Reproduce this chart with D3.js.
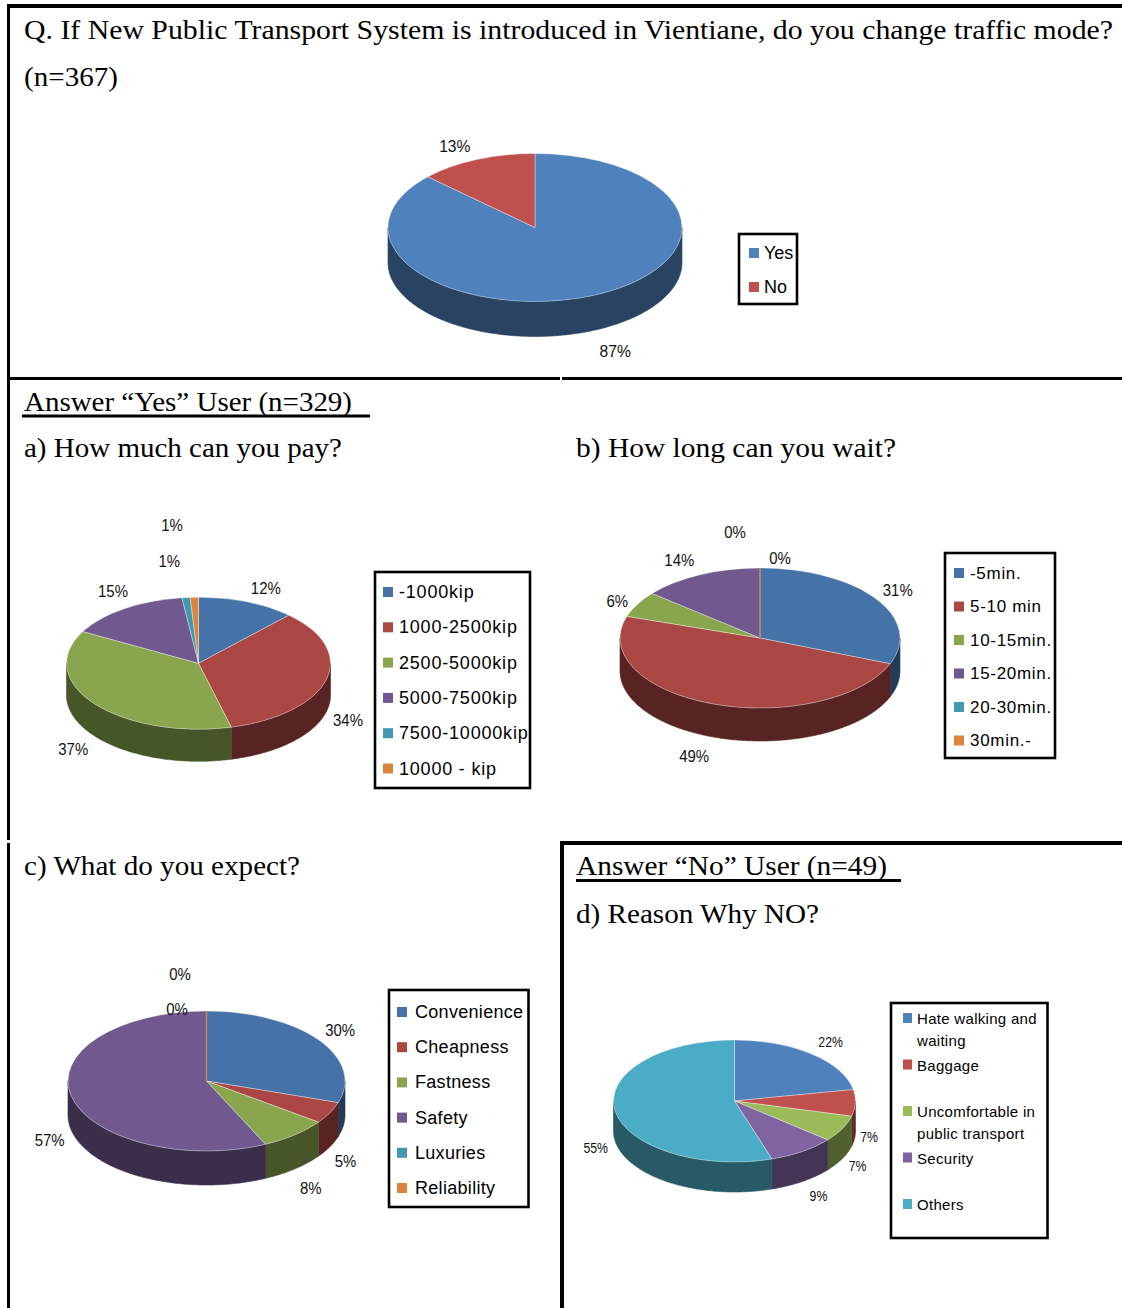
<!DOCTYPE html>
<html>
<head>
<meta charset="utf-8">
<script src="https://cdn.jsdelivr.net/npm/d3@7"></script>
<style>
  body { margin: 0; background: #fff; }
  svg { display: block; }
</style>
</head>
<body>
<svg id="page" width="1122" height="1308"></svg>
<script>
// ---- Survey data (percent of respondents) ----
const modeCategories = ["Yes", "No"];
const modeValues = [87, 13];

const payCategories = ["-1000kip", "1000-2500kip", "2500-5000kip", "5000-7500kip", "7500-10000kip", "10000 - kip"];
const payValues = [12, 34, 37, 15, 1, 1];

const waitCategories = ["-5min.", "5-10 min", "10-15min.", "15-20min.", "20-30min.", "30min.-"];
const waitValues = [31, 49, 6, 14, 0, 0];

const expectCategories = ["Convenience", "Cheapness", "Fastness", "Safety", "Luxuries", "Reliability"];
const expectValues = [30, 5, 8, 57, 0, 0];

const reasonCategories = ["Hate walking and waiting", "Baggage", "Uncomfortable in public transport", "Security", "Others"];
const reasonValues = [22, 7, 7, 9, 55];

// ---- Palettes ----
const officePalette = ["#4F81BD", "#C0504D", "#9BBB59", "#8064A2", "#4BACC6"];
const stylePalette = ["#4572A7", "#AA4643", "#89A54E", "#71588F", "#4198AF", "#DB843D"];

const SANS = "'Liberation Sans', Arial, Helvetica, sans-serif";
const SERIF = "'Liberation Serif', 'Times New Roman', Times, serif";

const svg = d3.select("#page");

// ---- Panel frame ----
const frameLines = [
  [7, 6, 1122, 6, 4],          // top edge
  [8.5, 4, 8.5, 840, 3],       // left edge, upper part
  [8.5, 843, 8.5, 1308, 3],    // left edge, lower part
  [7, 378.5, 560, 378.5, 3],   // divider under first question
  [562, 378.5, 1122, 378.5, 3],
  [560, 843, 1122, 843, 4],    // "No" panel top
  [562, 841, 562, 1308, 4]     // "No" panel left
];
svg.append("g").selectAll("line").data(frameLines).join("line")
  .attr("x1", d => d[0]).attr("y1", d => d[1])
  .attr("x2", d => d[2]).attr("y2", d => d[3])
  .attr("stroke", "#000").attr("stroke-width", d => d[4]);

// ---- Headings ----
const headings = [
  { text: "Q. If New Public Transport System is introduced in Vientiane, do you change traffic mode?", x: 24, y: 39, w: 1089 },
  { text: "(n=367)", x: 24, y: 86, w: 94 },
  { text: "Answer \u201CYes\u201D User (n=329)", x: 24, y: 411, w: 328, underline: [22, 370, 416] },
  { text: "a) How much can you pay?", x: 24, y: 457, w: 318 },
  { text: "b) How long can you wait?", x: 576, y: 457, w: 320 },
  { text: "c) What do you expect?", x: 24, y: 875, w: 276 },
  { text: "Answer \u201CNo\u201D User (n=49)", x: 576, y: 875, w: 311, underline: [576, 901, 880.5] },
  { text: "d) Reason Why NO?", x: 576, y: 923, w: 243 }
];
const hg = svg.append("g");
headings.forEach(h => {
  hg.append("text")
    .attr("x", h.x).attr("y", h.y)
    .attr("textLength", h.w).attr("lengthAdjust", "spacingAndGlyphs")
    .attr("font-family", SERIF).attr("font-size", 28).attr("fill", "#000")
    .text(h.text);
  if (h.underline) {
    hg.append("line")
      .attr("x1", h.underline[0]).attr("x2", h.underline[1])
      .attr("y1", h.underline[2]).attr("y2", h.underline[2])
      .attr("stroke", "#000").attr("stroke-width", 3);
  }
});

// Darker tone used for the cylinder walls
function shade(c) {
  const r = d3.rgb(c);
  return d3.rgb(r.r * 0.52, r.g * 0.52, r.b * 0.52).formatHex();
}

// Word wrap for legend entries
function wrapText(textSel, words, maxW, lineH) {
  let line = [];
  let tspan = textSel.append("tspan").attr("x", textSel.attr("x")).attr("dy", 0);
  words.forEach(w => {
    line.push(w);
    tspan.text(line.join(" "));
    if (tspan.node().getComputedTextLength() > maxW && line.length > 1) {
      line.pop();
      tspan.text(line.join(" "));
      line = [w];
      tspan = textSel.append("tspan").attr("x", textSel.attr("x")).attr("dy", lineH).text(w);
    }
  });
}

// ---- 3-D pie with legend ----
function drawPie(cfg) {
  const g = svg.append("g");
  const color = d3.scaleOrdinal().domain(cfg.categories).range(cfg.colors);
  const data = cfg.categories.map((c, i) => ({ category: c, value: cfg.values[i] }));
  const arcs = d3.pie().sort(null).value(d => d.value)
    .startAngle(0).endAngle(2 * Math.PI)(data);

  const k = cfg.ry / cfg.rx;
  const px = a => cfg.cx + cfg.rx * Math.sin(a);
  const py = a => cfg.cy - cfg.ry * Math.cos(a);
  const line = d3.line();

  // outer walls of the front half
  arcs.forEach(a => {
    const a0 = Math.max(a.startAngle, Math.PI / 2);
    const a1 = Math.min(a.endAngle, 3 * Math.PI / 2);
    if (a1 <= a0) return;
    const n = Math.max(2, Math.ceil((a1 - a0) / 0.015));
    const ts = d3.range(n + 1).map(i => a0 + (a1 - a0) * i / n);
    const pts = ts.map(t => [px(t), py(t)])
      .concat(ts.slice().reverse().map(t => [px(t), py(t) + cfg.depth]));
    const c = shade(color(a.data.category));
    g.append("path").attr("d", line(pts) + "Z")
      .attr("fill", c).attr("stroke", c).attr("stroke-width", 0.6);
  });

  // top face
  const arc = d3.arc().innerRadius(0).outerRadius(cfg.rx);
  g.append("g")
    .attr("transform", `translate(${cfg.cx},${cfg.cy}) scale(1,${k})`)
    .selectAll("path").data(arcs).join("path")
    .attr("d", arc)
    .attr("fill", d => color(d.data.category))
    .attr("stroke", d => d.data.value === 0 ? color(d.data.category) : "rgba(255,255,255,0.45)")
    .attr("stroke-width", d => d.data.value === 0 ? 1.3 : 0.8)
    .attr("vector-effect", "non-scaling-stroke");

  // percentage labels
  arcs.forEach((a, i) => {
    const m = (a.startAngle + a.endAngle) / 2;
    const nd = cfg.nudges[i] || [0, 0];
    const x = cfg.cx + cfg.rx * 1.22 * Math.sin(m) + nd[0];
    const y = cfg.cy - cfg.ry * 1.3 * Math.cos(m) + (Math.cos(m) < 0 ? cfg.depth : 0) + nd[1];
    g.append("text")
      .attr("transform", `translate(${x},${y}) scale(${cfg.labelScale},1)`)
      .attr("text-anchor", "middle").attr("dominant-baseline", "central")
      .attr("font-family", SANS).attr("font-size", cfg.labelSize).attr("fill", "#111")
      .text(a.data.value + "%");
  });

  // legend
  const L = cfg.legend;
  g.append("rect")
    .attr("x", L.x).attr("y", L.y).attr("width", L.w).attr("height", L.h)
    .attr("fill", "#fff").attr("stroke", "#000").attr("stroke-width", 2.6);
  cfg.categories.forEach((c, i) => {
    const y = L.first + i * L.step;
    g.append("rect")
      .attr("x", L.sx).attr("y", y - L.sh / 2).attr("width", L.sw).attr("height", L.sh)
      .attr("fill", color(c));
    const t = g.append("text")
      .attr("x", L.tx).attr("y", y)
      .attr("dominant-baseline", "central")
      .attr("font-family", SANS).attr("font-size", L.size)
      .attr("letter-spacing", L.ls).attr("fill", "#000");
    if (L.wrap) wrapText(t, c.split(" "), L.wrap, L.lineH);
    else t.text(c);
  });
}

drawPie({
  categories: modeCategories, values: modeValues, colors: officePalette,
  cx: 535, cy: 227.5, rx: 147, ry: 74, depth: 35,
  labelSize: 17, labelScale: 0.92,
  nudges: [[9, 0], [-9, 7]],
  legend: { x: 739, y: 234, w: 58, h: 70, sx: 749, sw: 10, sh: 10, tx: 764, first: 253, step: 34, size: 18, ls: 0 }
});

drawPie({
  categories: payCategories, values: payValues, colors: stylePalette,
  cx: 198.5, cy: 663.3, rx: 132, ry: 66, depth: 32,
  labelSize: 17, labelScale: 0.88,
  nudges: [[8, 4.5], [-6.5, 4], [2, 1.5], [5, -1], [-14, -17], [-21.5, -52]],
  legend: { x: 375, y: 572, w: 155, h: 216, sx: 383, sw: 10, sh: 10, tx: 399, first: 592, step: 35.3, size: 18, ls: 0.8 }
});

drawPie({
  categories: waitCategories, values: waitValues, colors: stylePalette,
  cx: 760, cy: 638, rx: 140, ry: 70, depth: 33,
  labelSize: 17, labelScale: 0.88,
  nudges: [[-3.5, 3], [-8, -0.5], [7, 7], [-8, 5], [20, 11], [-25, -15]],
  legend: { x: 945, y: 553, w: 110, h: 205, sx: 954, sw: 10, sh: 10, tx: 970, first: 573, step: 33.5, size: 17, ls: 0.7 }
});

drawPie({
  categories: expectCategories, values: expectValues, colors: stylePalette,
  cx: 206.5, cy: 1081, rx: 138.5, ry: 70, depth: 34,
  labelSize: 17, labelScale: 0.88,
  nudges: [[-3, 2.5], [-11.5, 4.5], [-3.5, 3], [8, 5], [-29.5, 19.5], [-26.5, -15.5]],
  legend: { x: 389, y: 990, w: 139.5, h: 217, sx: 397, sw: 10, sh: 10, tx: 415, first: 1012, step: 35.2, size: 18, ls: 0.3 }
});

drawPie({
  categories: reasonCategories, values: reasonValues, colors: officePalette,
  cx: 734.5, cy: 1101, rx: 121, ry: 61, depth: 30,
  labelSize: 15, labelScale: 0.82,
  nudges: [[2, 2], [-13, 3.5], [-8.5, -1], [1, -0.5], [7, 4.5]],
  legend: { x: 891, y: 1003, w: 156.5, h: 235, sx: 903, sw: 9, sh: 10, tx: 917, first: 1018, step: 46.5, size: 15, ls: 0.3, wrap: 126, lineH: 21.5 }
});
</script>
</body>
</html>
